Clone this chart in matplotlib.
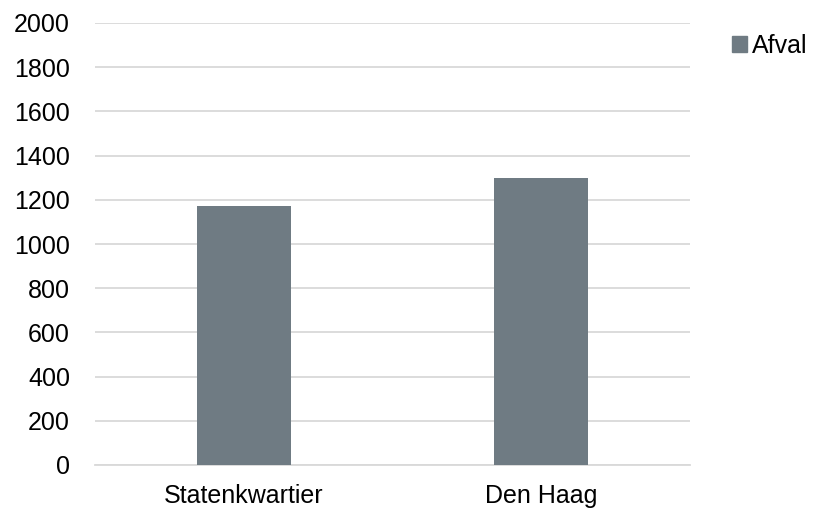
import matplotlib
matplotlib.use("Agg")
import matplotlib.pyplot as plt
from matplotlib.patches import Patch

categories = ["Statenkwartier", "Den Haag"]
afval = [1170, 1300]
yticks = [0, 200, 400, 600, 800, 1000, 1200, 1400, 1600, 1800, 2000]

plt.rcParams['font.family'] = ['Liberation Sans', 'DejaVu Sans']
fig = plt.figure(figsize=(8.13, 5.09), dpi=100)
ax = fig.add_axes([95/813, 1-465/509, (690-95)/813, (465-23)/509])
color = "#6f7b83"
x = range(len(categories))
ax.bar(x, afval, width=0.315, color=color, zorder=3)
ax.set_xlim(-0.5, 1.5)
ax.set_ylim(0, 2000)
ax.set_yticks(yticks)
ax.set_xticks(list(x))
ax.set_xticklabels(categories)
ax.grid(axis='y', color='#d9d9d9', linewidth=1.3, zorder=0)
for s in ['top', 'right', 'left']:
    ax.spines[s].set_visible(False)
ax.spines['bottom'].set_color('#d9d9d9')
ax.spines['bottom'].set_linewidth(1.3)
ax.tick_params(axis='both', length=0, labelsize=18, colors='black')
ax.tick_params(axis='y', pad=18)
ax.tick_params(axis='x', pad=14)
leg = fig.legend(handles=[Patch(color=color, label='Afval')], loc='upper left',
                 bbox_to_anchor=(722/813, 1-24/509), frameon=False, fontsize=18,
                 handlelength=0.6, handleheight=0.6, handletextpad=0.2, borderaxespad=0)
fig.savefig("out.png", dpi=100)
